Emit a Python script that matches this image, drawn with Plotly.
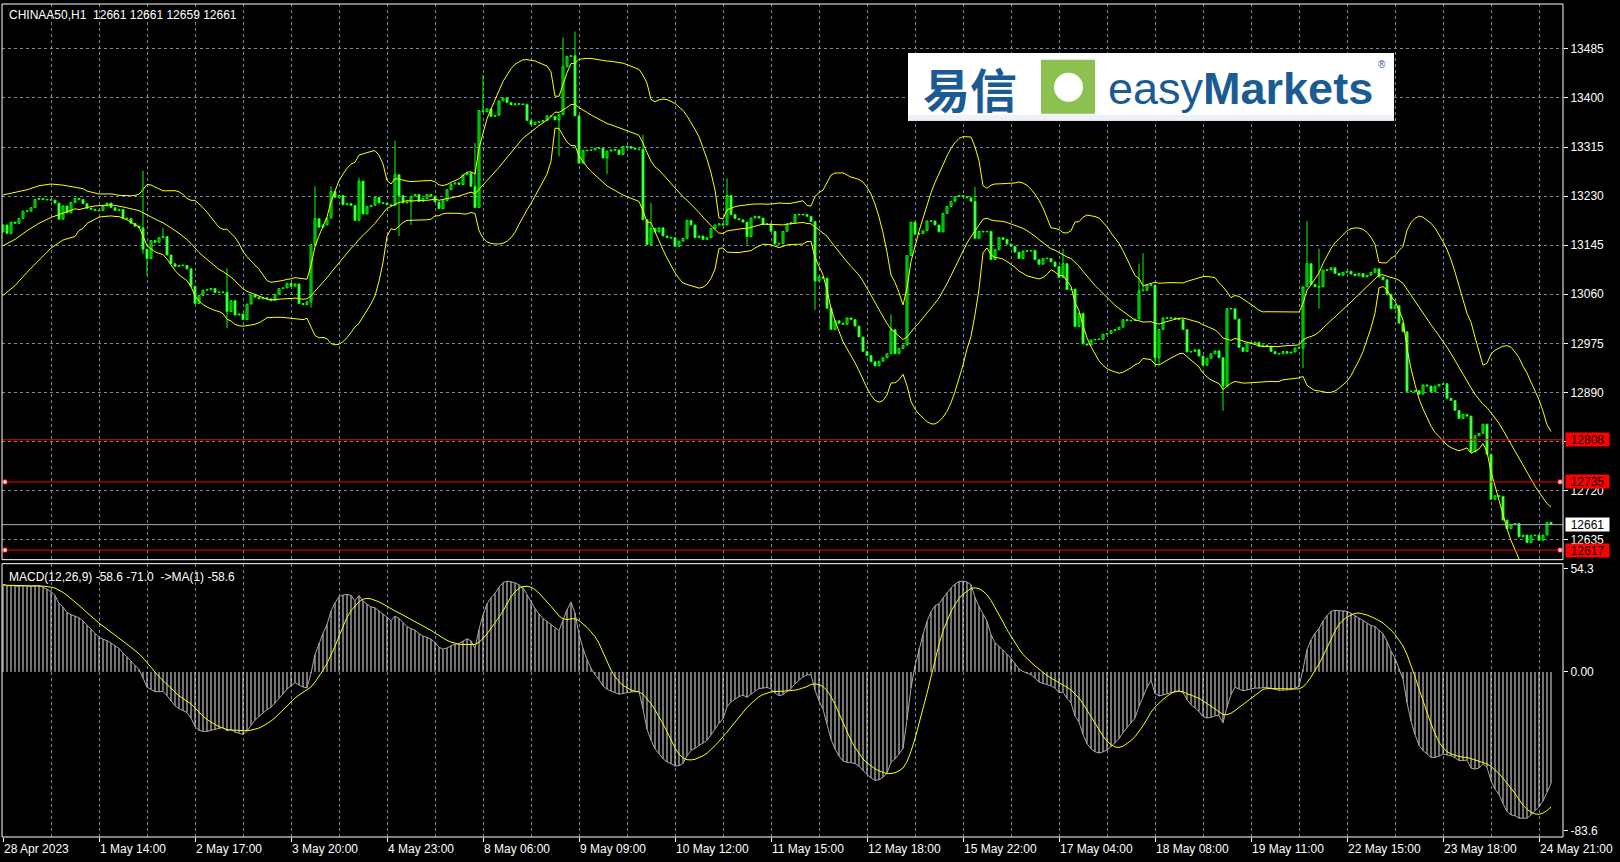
import numpy as np
import pandas as pd
import plotly.graph_objects as go

# ---------------- data ----------------
closes = [
 13180,13165,13185,13183,13191,13204,13204,13210,13224,13226,
 13224,13224,13223,13218,13190,13213,13201,13219,13226,13224,
 13217,13209,13207,13205,13205,13213,13218,13210,13205,13207,
 13192,13191,13183,13178,13175,13138,13122,13153,13150,13158,
 13160,13128,13113,13108,13110,13110,13104,13074,13044,13058,
 13067,13068,13070,13063,13064,13063,13030,13049,13024,13026,
 13016,13043,13059,13055,13052,13054,13052,13049,13060,13070,
 13071,13079,13074,13078,13044,13042,13047,13146,13191,13176,
 13180,13192,13238,13228,13231,13215,13217,13214,13188,13256,
 13199,13212,13214,13228,13218,13218,13215,13214,13267,13231,
 13218,13220,13230,13233,13221,13226,13233,13230,13220,13208,
 13222,13241,13251,13253,13250,13267,13270,13247,13210,13378,
 13376,13381,13368,13370,13395,13400,13392,13388,13390,13389,
 13389,13361,13354,13358,13359,13361,13369,13368,13362,13371,
 13454,13472,13473,13369,13287,13309,13309,13310,13313,13313,
 13296,13308,13310,13310,13302,13316,13316,13313,13311,13311,
 13189,13146,13174,13168,13175,13161,13158,13158,13143,13152,
 13157,13188,13180,13158,13161,13155,13158,13174,13180,13182,
 13180,13231,13198,13191,13189,13185,13160,13192,13195,13192,
 13181,13182,13169,13147,13148,13169,13182,13184,13198,13198,
 13198,13195,13186,13083,13090,13088,13036,12999,13014,13010,
 13008,13019,13016,13005,12986,12961,12954,12943,12936,12944,
 12950,12957,12999,12957,12966,12972,13127,13185,13164,13165,
 13170,13187,13187,13180,13168,13200,13212,13221,13229,13231,
 13229,13227,13221,13157,13169,13168,13169,13120,13137,13158,
 13155,13147,13143,13133,13122,13135,13135,13136,13120,13112,
 13122,13122,13116,13108,13089,13113,13068,13069,13004,13027,
 12974,12972,12981,12982,12982,12991,12992,12997,12999,13003,
 13016,13014,13015,13017,13066,13067,13076,13076,12950,12999,
 13019,13019,13019,13017,13016,12999,12960,12961,12964,12953,
 12937,12949,12957,12962,12950,12901,13035,13035,13017,12968,
 12961,12976,12975,12977,12970,12972,12970,12961,12957,12957,
 12961,12958,12960,12967,12967,13073,13113,13077,13073,13073,
 13102,13102,13106,13096,13093,13098,13100,13095,13092,13096,
 13090,13093,13098,13104,13090,13085,13060,13035,13040,13010,
 12995,12892,12892,12893,12887,12903,12901,12891,12901,12904,
 12905,12880,12876,12859,12845,12852,12849,12787,12815,12819,
 12835,12783,12705,12711,12710,12669,12654,12661,12663,12640,
 12643,12630,12642,12643,12634,12643,12665,12661,
]
first_open = 13168

wick_high = {35: 13274, 40: 13175, 56: 13105, 78: 13247, 82: 13247, 89: 13262,
             98: 13326, 118: 13322, 120: 13440, 140: 13505, 143: 13515,
             160: 13336, 162: 13218, 181: 13261, 222: 13025, 243: 13246,
             265: 13139, 284: 13113, 285: 13131, 326: 13187, 329: 13139}
wick_low = {35: 13130, 36: 13093, 56: 13001, 77: 13037, 99: 13161, 102: 13180,
            139: 13299, 151: 13268, 186: 13146, 203: 13033, 288: 12935,
            289: 12938, 305: 12858, 325: 12932, 329: 13035}

# Bollinger band readings for the first bars (before 20 closes are available)
bb_early_idx = [0, 3, 6, 9, 12, 15, 18]
bb_early_upper = [13232, 13237, 13241, 13248, 13251, 13249, 13245]
bb_early_mid = [13144, 13155, 13170, 13183, 13193, 13200, 13208]
bb_early_lower = [13058, 13075, 13098, 13119, 13140, 13154, 13160]

# MACD EMA starting states (read from the left edge of the MACD pane)
ema12_start = 13125
ema26_start = 13080

time_labels = ["28 Apr 2023", "1 May 14:00", "2 May 17:00", "3 May 20:00",
               "4 May 23:00", "8 May 06:00", "9 May 09:00", "10 May 12:00",
               "11 May 15:00", "12 May 18:00", "15 May 22:00", "17 May 04:00",
               "18 May 08:00", "19 May 11:00", "22 May 15:00", "23 May 18:00",
               "24 May 21:00"]
price_ticks = [12635, 12720, 12805, 12890, 12975, 13060, 13145, 13230, 13315, 13400, 13485]
macd_ticks = [54.3, 0.0, -83.6]
macd_tick_text = ["54.3", "0.00", "-83.6"]
level_lines = [12808, 12735, 12617]
marked_levels = [12735, 12617]
last_price = 12661
title_text = "CHINAA50,H1\u00a0\u00a012661 12661 12659 12661"
macd_text = "MACD(12,26,9) -58.6 -71.0\u00a0\u00a0->MA(1) -58.6"

# ---------------- derived series ----------------
n = len(closes)
idx = list(range(n))
opens = [first_open] + closes[:-1]
highs = [max(o, c) for o, c in zip(opens, closes)]
lows = [min(o, c) for o, c in zip(opens, closes)]
for k, v in wick_high.items():
    highs[k] = max(highs[k], v)
for k, v in wick_low.items():
    lows[k] = min(lows[k], v)

s = pd.Series(closes, dtype=float)
mid = s.rolling(20).mean()
sd = s.rolling(20).std(ddof=0)
up = mid + 2 * sd
lo = mid - 2 * sd
bb_x = bb_early_idx + list(range(19, n))
bb_up = bb_early_upper + list(up[19:])
bb_mid = bb_early_mid + list(mid[19:])
bb_lo = bb_early_lower + list(lo[19:])

e12, e26 = float(ema12_start), float(ema26_start)
macd = []
for c in closes:
    e12 += (2 / 13) * (c - e12)
    e26 += (2 / 27) * (c - e26)
    macd.append(e12 - e26)
signal = list(pd.Series(macd).rolling(9, min_periods=1).mean())

# ---------------- layout geometry ----------------
W, H = 1620, 862
L, R, T, B = 2, 57, 2, 25
PW, PH = W - L - R, H - T - B


def px(x):
    return (x - L) / PW


def py(y):
    return (H - B - y) / PH


main_dom = [py(559), 1.0]
macd_dom = [0.0, py(563)]
y_main = [12600.4, 13562.7]
y_macd = [-86.9, 57.0]

GRID = "#778899"
LIME = "#00ff00"
FONT = "Liberation Sans"

fig = go.Figure()

# wicks
wx, wy = [], []
for i in idx:
    wx += [i, i, None]
    wy += [lows[i], highs[i], None]
fig.add_trace(go.Scatter(x=wx, y=wy, mode="lines", line=dict(color=LIME, width=1),
                         hoverinfo="skip", xaxis="x", yaxis="y"))

# bodies
base, hgt, col = [], [], []
for o, c in zip(opens, closes):
    b = min(o, c)
    h = abs(c - o)
    if h < 1.2:
        b -= (1.2 - h) / 2
        h = 1.2
    base.append(b)
    hgt.append(h)
    col.append("#000000" if c > o else "#ffffff")
fig.add_trace(go.Bar(x=idx, y=hgt, base=base, width=0.5,
                     marker=dict(color=col, line=dict(color=LIME, width=1)),
                     hoverinfo="skip", xaxis="x", yaxis="y"))

for yy in (bb_up, bb_mid, bb_lo):
    fig.add_trace(go.Scatter(x=bb_x, y=yy, mode="lines",
                             line=dict(color="#ffff00", width=1),
                             hoverinfo="skip", xaxis="x", yaxis="y"))

# MACD histogram
hx, hy = [], []
for i, m in enumerate(macd):
    hx += [i, i, None]
    hy += [0, m, None]
fig.add_trace(go.Scatter(x=hx, y=hy, mode="lines", line=dict(color="#e4e4e4", width=1),
                         hoverinfo="skip", xaxis="x2", yaxis="y2"))
fig.add_trace(go.Scatter(x=idx, y=macd, mode="lines", line=dict(color="#a9a9a9", width=1),
                         hoverinfo="skip", xaxis="x2", yaxis="y2"))
fig.add_trace(go.Scatter(x=idx, y=signal, mode="lines", line=dict(color="#ffff00", width=1),
                         hoverinfo="skip", xaxis="x2", yaxis="y2"))

shapes = []
# level lines
for lv in level_lines:
    shapes.append(dict(type="line", xref="paper", yref="y", x0=0, x1=1, y0=lv, y1=lv,
                       line=dict(color="#ff0000", width=1), layer="above"))
shapes.append(dict(type="line", xref="paper", yref="y", x0=0, x1=1, y0=last_price,
                   y1=last_price, line=dict(color="#a8b0b8", width=1), layer="above"))
for lv in marked_levels:
    for xc in (5, 1560):
        shapes.append(dict(type="rect", xref="paper", yref="y", x0=px(xc - 2), x1=px(xc + 2),
                           y0=lv - 3.5, y1=lv + 3.5, fillcolor="#ffffff",
                           line=dict(color="#ff0000", width=1), layer="above"))
# frames
shapes.append(dict(type="rect", xref="paper", yref="paper", x0=0, x1=1,
                   y0=main_dom[0], y1=1, line=dict(color="#ffffff", width=1)))
shapes.append(dict(type="rect", xref="paper", yref="paper", x0=0, x1=1,
                   y0=0, y1=macd_dom[1], line=dict(color="#ffffff", width=1)))
# logo
shapes.append(dict(type="rect", xref="paper", yref="paper", x0=px(908), x1=px(1394),
                   y0=py(119), y1=py(51), fillcolor="#ffffff", line=dict(width=0), layer="above"))
shapes.append(dict(type="rect", xref="paper", yref="paper", x0=px(908), x1=px(1394),
                   y0=py(119), y1=py(113), fillcolor="#eef1f6", line=dict(width=0), layer="above"))
shapes.append(dict(type="rect", xref="paper", yref="paper", x0=px(1042), x1=px(1094),
                   y0=py(111), y1=py(59), fillcolor="#8cc152",
                   line=dict(color="#8cc152", width=2), layer="above"))
shapes.append(dict(type="circle", xref="paper", yref="paper", x0=px(1054), x1=px(1083),
                   y0=py(100), y1=py(71), fillcolor="#ffffff", line=dict(width=0), layer="above"))

ann = []
ann.append(dict(text=title_text, xref="paper", yref="paper", x=px(7), y=py(13),
                xanchor="left", yanchor="middle", showarrow=False,
                font=dict(family=FONT, size=12, color="#ffffff")))
ann.append(dict(text=macd_text, xref="paper", yref="paper", x=px(7), y=py(576),
                xanchor="left", yanchor="middle", showarrow=False,
                font=dict(family=FONT, size=12, color="#ffffff")))
for k, t in enumerate(time_labels):
    ann.append(dict(text=t, xref="x2", yref="paper", x=24 * k, y=py(849),
                    xanchor="left", yanchor="middle", showarrow=False, xshift=-1,
                    font=dict(family=FONT, size=12, color="#ffffff")))
for lv in level_lines:
    ann.append(dict(text=str(lv), xref="paper", yref="y", x=px(1565), y=lv,
                    xanchor="left", yanchor="middle", showarrow=False,
                    width=43, height=13, bgcolor="#ff0000", borderpad=0,
                    font=dict(family=FONT, size=12, color="#000000")))
ann.append(dict(text=str(last_price), xref="paper", yref="y", x=px(1565), y=last_price,
                xanchor="left", yanchor="middle", showarrow=False,
                width=43, height=13, bgcolor="#ffffff", borderpad=0,
                font=dict(family=FONT, size=12, color="#000000")))
# logo text
ann.append(dict(text="<b>易信</b>", xref="paper", yref="paper", x=px(970), y=py(86),
                xanchor="center", yanchor="middle", showarrow=False,
                font=dict(family="Noto Sans CJK SC", size=47, color="#1b5b93")))
ann.append(dict(text="easy<b>Markets</b>", xref="paper", yref="paper", x=px(1106), y=py(87),
                xanchor="left", yanchor="middle", showarrow=False,
                font=dict(family="Liberation Sans", size=45, color="#1b5b93")))
ann.append(dict(text="®", xref="paper", yref="paper", x=px(1382), y=py(63),
                xanchor="center", yanchor="middle", showarrow=False,
                font=dict(family="Liberation Sans", size=10, color="#1b5b93")))

xcommon = dict(range=[-0.25, 390.0], showline=False, zeroline=False,
               tickmode="linear", tick0=0, dtick=24, showgrid=True,
               gridcolor=GRID, griddash="3px,3px", gridwidth=1,
               minor=dict(tickmode="linear", tick0=0, dtick=12, showgrid=True,
                          gridcolor=GRID, griddash="3px,3px", gridwidth=1))

fig.update_layout(
    width=W, height=H,
    margin=dict(l=L, r=R, t=T, b=B, pad=0),
    paper_bgcolor="#000000", plot_bgcolor="#000000",
    showlegend=False, barmode="overlay",
    xaxis=dict(**xcommon, anchor="y", domain=[0, 1], showticklabels=False, ticks=""),
    xaxis2=dict(**xcommon, anchor="y2", domain=[0, 1], matches="x", showticklabels=False,
                ticks="outside", ticklen=4, tickcolor="#ffffff", tickwidth=1),
    yaxis=dict(domain=main_dom, range=y_main, side="right", tickmode="array",
               tickvals=price_ticks, ticktext=[str(v) for v in price_ticks],
               ticks="outside", ticklen=4, tickcolor="#ffffff",
               tickfont=dict(family=FONT, size=12, color="#ffffff"),
               showgrid=True, gridcolor=GRID, griddash="3px,3px", gridwidth=1,
               zeroline=False, showline=False, fixedrange=True),
    yaxis2=dict(domain=macd_dom, range=y_macd, side="right", tickmode="array",
                tickvals=macd_ticks, ticktext=macd_tick_text,
                ticks="outside", ticklen=4, tickcolor="#ffffff",
                tickfont=dict(family=FONT, size=12, color="#ffffff"),
                showgrid=False, zeroline=False, showline=False, fixedrange=True),
    shapes=shapes, annotations=ann,
)

fig.write_html("out.html", config={"displayModeBar": False},
               post_script="document.body.style.margin='0px';document.body.style.background='#000';")
